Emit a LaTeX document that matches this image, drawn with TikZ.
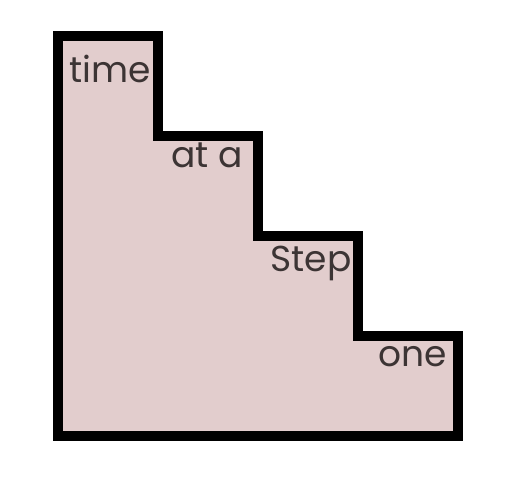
\documentclass[tikz,border=0pt]{standalone}
\usepackage{fontspec}
\setmainfont{Poppins}
\definecolor{stairfill}{RGB}{226,205,205}
\definecolor{stairtext}{RGB}{60,52,52}
\begin{document}
\begin{tikzpicture}[x=1pt,y=-1pt,
  lbl/.style={inner sep=0pt,anchor=base,text=stairtext,font=\fontsize{36}{36}\selectfont}]
\useasboundingbox (0,0) rectangle (512,480);
\path[fill=stairfill] (58,36) -- (158,36) -- (158,136) -- (258,136) -- (258,236) -- (358,236) -- (358,336) -- (458,336) -- (458,436) -- (58,436) -- cycle;
\node[lbl] (t1) at (110.5,82) {time};
\node[lbl] (t2) at (207,167) {at a};
\node[lbl] (t3) at (311,271) {Step};
\node[lbl] (t4) at (413,366) {one};
\draw[line width=10pt,miter limit=10] (58,36) -- (158,36) -- (158,136) -- (258,136) -- (258,236) -- (358,236) -- (358,336) -- (458,336) -- (458,436) -- (58,436) -- cycle;
\end{tikzpicture}
\end{document}
